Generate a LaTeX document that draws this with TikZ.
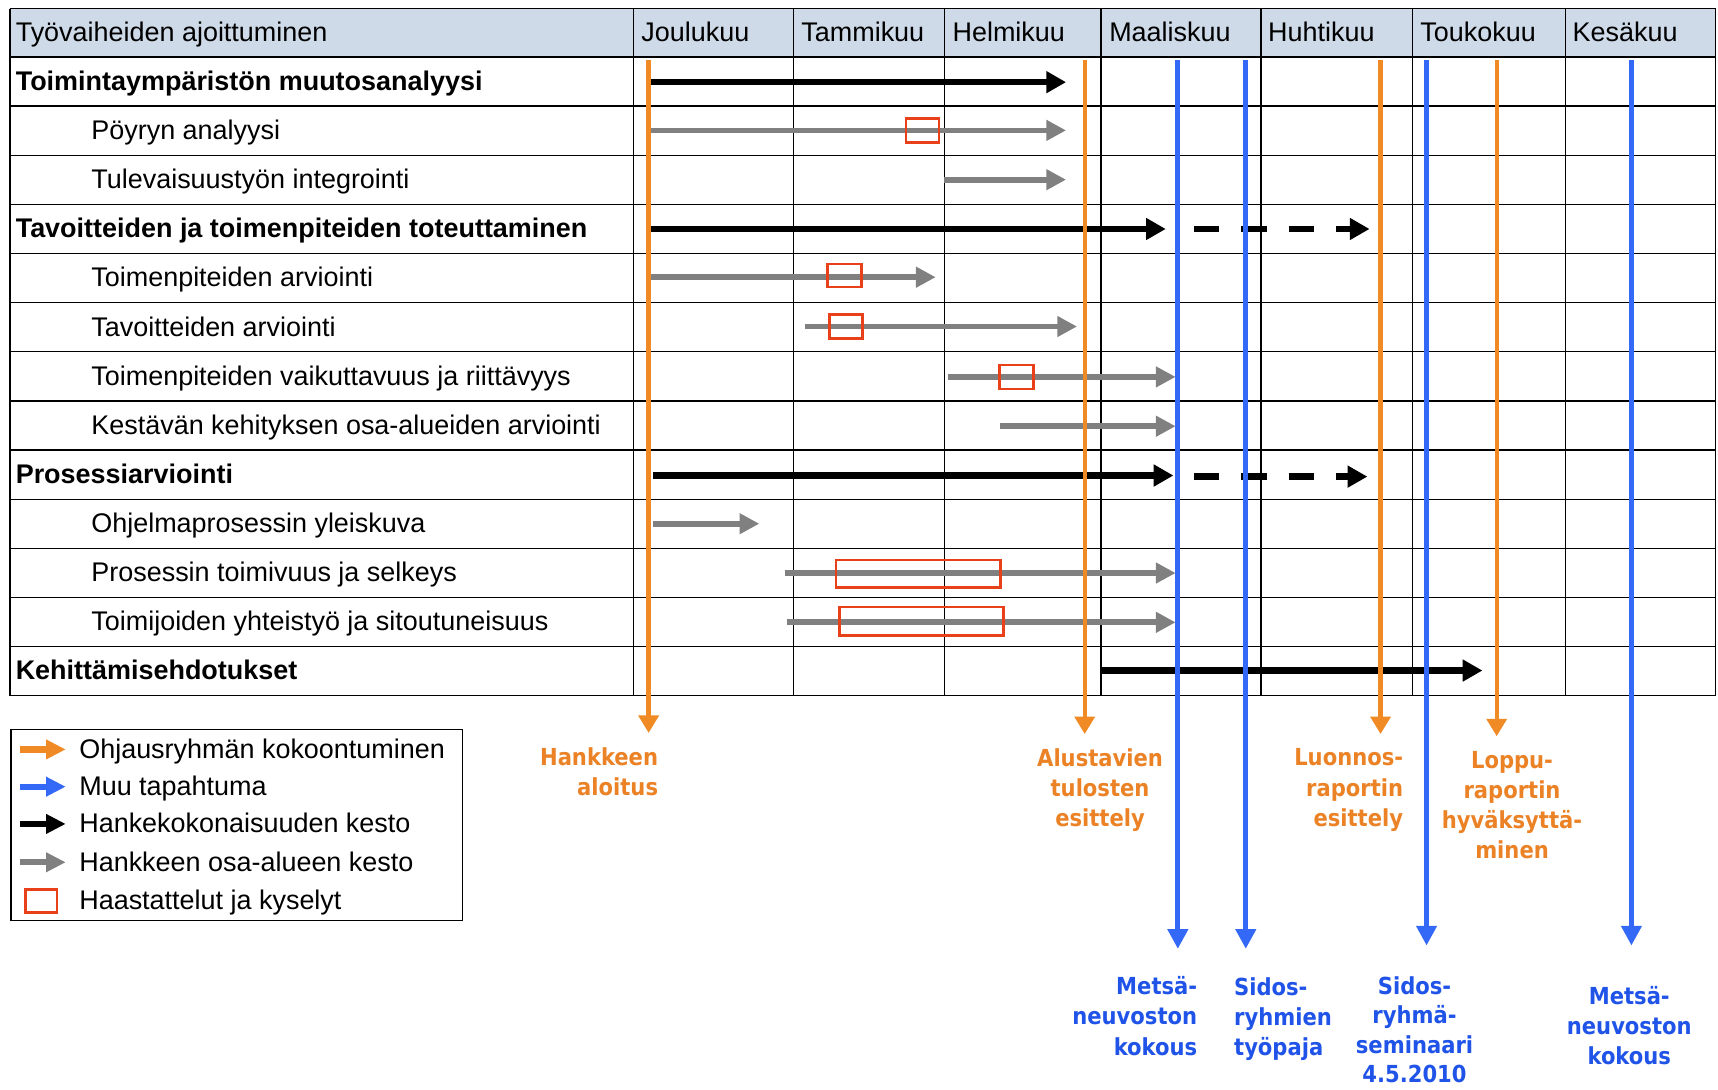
\documentclass[tikz,border=0pt]{standalone}
\usepackage{fontspec}
\setmainfont{Liberation Sans}
\newfontfamily\evfont{DejaVu Sans Condensed}
\usetikzlibrary{arrows.meta}
\definecolor{headfill}{RGB}{206,218,232}
\definecolor{evorange}{RGB}{240,138,36}
\definecolor{evblue}{RGB}{52,104,246}
\definecolor{txtorange}{RGB}{236,130,38}
\definecolor{txtblue}{RGB}{32,84,232}
\definecolor{redbox}{RGB}{232,64,24}
\definecolor{grayarr}{RGB}{128,128,128}
\tikzset{
  gridln/.style={line width=0.6pt, draw=black},
  mainarr/.style={line width=2.9pt, draw=black, -{Triangle[length=9pt,width=9.5pt]}},
  subarr/.style={line width=2.6pt, draw=grayarr, -{Triangle[length=9pt,width=9pt]}},
  dasharr/.style={mainarr, dash pattern=on 11.5pt off 10pt},
  ivbox/.style={draw=redbox, line width=1.2pt},
  orangeev/.style={line width=2pt, draw=evorange, -{Triangle[length=8pt,width=9pt]}},
  blueev/.style={line width=2.3pt, draw=evblue, -{Triangle[length=9pt,width=9pt]}},
  rowlbl/.style={anchor=base west, inner sep=0pt, font=\fontsize{12.3}{14}\selectfont},
  boldlbl/.style={rowlbl, font=\bfseries\fontsize{12.3}{14}\selectfont},
  evlbl/.style={inner sep=0pt, font=\evfont\bfseries\fontsize{10.7}{13.75}\selectfont},
  legarr/.style={line width=2.8pt, -{Triangle[length=9pt,width=8.5pt]}}
}
\begin{document}
\begin{tikzpicture}[x=0.5pt,y=-0.5pt]
\useasboundingbox (0,0) rectangle (1568,994);
\fill[white] (0,0) rectangle (1568,994);
% header
\fill[headfill] (9,8) rectangle (1566,52);
% grid
\foreach \yy in {8,52,96.85,141.7,186.55,231.4,276.25,321.1,365.95,410.8,455.65,500.5,545.35,590.2,635.05}
  \draw[gridln] (9,\yy) -- (1566,\yy);
\foreach \xx in {9,578,724,862,1005,1151,1289,1429,1566}
  \draw[gridln] (\xx,8) -- (\xx,635.05);
% header texts
\node[rowlbl] (head) at (14,38) {Työvaiheiden ajoittuminen};
\node[rowlbl] (mon1) at (585,38) {Joulukuu};
\node[rowlbl] (mon2) at (731,38) {Tammikuu};
\node[rowlbl] (mon3) at (869,38) {Helmikuu};
\node[rowlbl] (mon4) at (1012,38) {Maaliskuu};
\node[rowlbl] (mon5) at (1157,38) {Huhtikuu};
\node[rowlbl] (mon6) at (1296,38) {Toukokuu};
\node[rowlbl] (mon7) at (1435,38) {Kesäkuu};
% row texts
\node[boldlbl] (r1) at (14,82.5) {Toimintaympäristön muutosanalyysi};
\node[rowlbl] (r2) at (83,127.3) {Pöyryn analyysi};
\node[rowlbl] (r3) at (83,172.1) {Tulevaisuustyön integrointi};
\node[boldlbl] (r4) at (14,217) {Tavoitteiden ja toimenpiteiden toteuttaminen};
\node[rowlbl] (r5) at (83,261.8) {Toimenpiteiden arviointi};
\node[rowlbl] (r6) at (83,306.7) {Tavoitteiden arviointi};
\node[rowlbl] (r7) at (83,351.5) {Toimenpiteiden vaikuttavuus ja riittävyys};
\node[rowlbl] (r8) at (83,396.4) {Kestävän kehityksen osa-alueiden arviointi};
\node[boldlbl] (r9) at (14,441.2) {Prosessiarviointi};
\node[rowlbl] (r10) at (83,486.1) {Ohjelmaprosessin yleiskuva};
\node[rowlbl] (r11) at (83,530.9) {Prosessin toimivuus ja selkeys};
\node[rowlbl] (r12) at (83,575.8) {Toimijoiden yhteistyö ja sitoutuneisuus};
\node[boldlbl] (r13) at (14,620.6) {Kehittämisehdotukset};
% bar coordinates
\coordinate (a1s) at (593,75);   \coordinate (a1e) at (973,75);
\coordinate (a2s) at (593,119);  \coordinate (a2e) at (973,119);
\coordinate (a3s) at (862,164);  \coordinate (a3e) at (973,164);
\coordinate (a4s) at (593,209);  \coordinate (a4e) at (1064,209);
\coordinate (d4s) at (1090,209); \coordinate (d4e) at (1250,209);
\coordinate (a5s) at (593,253);  \coordinate (a5e) at (854,253);
\coordinate (a6s) at (735,298);  \coordinate (a6e) at (983,298);
\coordinate (a7s) at (865,344);  \coordinate (a7e) at (1073,344);
\coordinate (a8s) at (913,389);  \coordinate (a8e) at (1073,389);
\coordinate (a9s) at (596,434);  \coordinate (a9e) at (1071,434);
\coordinate (d9s) at (1090,435); \coordinate (d9e) at (1248,435);
\coordinate (a10s) at (596,478); \coordinate (a10e) at (693,478);
\coordinate (a11s) at (716,523); \coordinate (a11e) at (1073,523);
\coordinate (a12s) at (718,568); \coordinate (a12e) at (1073,568);
\coordinate (a13s) at (1004,612); \coordinate (a13e) at (1353,612);
% bars
\draw[mainarr] (a1s) -- (a1e);
\draw[subarr] (a2s) -- (a2e);
\draw[subarr] (a3s) -- (a3e);
\draw[mainarr] (a4s) -- (a4e);
\draw[dasharr] (d4s) -- (d4e);
\draw[subarr] (a5s) -- (a5e);
\draw[subarr] (a6s) -- (a6e);
\draw[subarr] (a7s) -- (a7e);
\draw[subarr] (a8s) -- (a8e);
\draw[mainarr] (a9s) -- (a9e);
\draw[dasharr] (d9s) -- (d9e);
\draw[subarr] (a10s) -- (a10e);
\draw[subarr] (a11s) -- (a11e);
\draw[subarr] (a12s) -- (a12e);
\draw[mainarr] (a13s) -- (a13e);
% interview boxes
\draw[ivbox] (827,108) rectangle (857,130);
\draw[ivbox] (755,241) rectangle (786,262);
\draw[ivbox] (757,287) rectangle (787,309);
\draw[ivbox] (912,333) rectangle (943,355);
\draw[ivbox] (763,511) rectangle (913,536);
\draw[ivbox] (766,554) rectangle (916,580);
% event labels
\node[evlbl, text=txtorange, anchor=north east, align=right] (e1) at (601,682) {Hankkeen\\aloitus};
\node[evlbl, text=txtorange, anchor=north, align=center] (e2) at (1004,683) {Alustavien\\tulosten\\esittely};
\node[evlbl, text=txtorange, anchor=north east, align=right] (e3) at (1281,683) {Luonnos-\\raportin\\esittely};
\node[evlbl, text=txtorange, anchor=north, align=center] (e4) at (1380,685) {Loppu-\\raportin\\hyväksyttä-\\minen};
\node[evlbl, text=txtblue, anchor=north east, align=right] (e5) at (1093,891) {Metsä-\\neuvoston\\kokous};
\node[evlbl, text=txtblue, anchor=north west, align=left] (e6) at (1126,892) {Sidos-\\ryhmien\\työpaja};
\node[evlbl, text=txtblue, anchor=north, align=center, font=\evfont\bfseries\fontsize{10.7}{13.4}\selectfont] (e7) at (1291,891) {Sidos-\\ryhmä-\\seminaari\\4.5.2010};
\node[evlbl, text=txtblue, anchor=north, align=center] (e8) at (1487,900) {Metsä-\\neuvoston\\kokous};
% event line coordinates
\coordinate (o1s) at (592,55);   \coordinate (o1e) at (592,669);
\coordinate (o2s) at (990,55);   \coordinate (o2e) at (990,670);
\coordinate (o3s) at (1260,55);  \coordinate (o3e) at (1260,670);
\coordinate (o4s) at (1366,55);  \coordinate (o4e) at (1366,672);
\coordinate (b1s) at (1075,55);  \coordinate (b1e) at (1075,866);
\coordinate (b2s) at (1137,55);  \coordinate (b2e) at (1137,866);
\coordinate (b3s) at (1302,55);  \coordinate (b3e) at (1302,863);
\coordinate (b4s) at (1489,55);  \coordinate (b4e) at (1489,863);
\draw[orangeev] (o1s) -- (o1e);
\draw[orangeev] (o2s) -- (o2e);
\draw[orangeev] (o3s) -- (o3e);
\draw[orangeev] (o4s) -- (o4e);
\draw[blueev] (b1s) -- (b1e);
\draw[blueev] (b2s) -- (b2e);
\draw[blueev] (b3s) -- (b3e);
\draw[blueev] (b4s) -- (b4e);
% legend
\node[draw=black, line width=0.6pt, minimum width=206pt, minimum height=87pt, inner sep=0pt] (legend) at (216,753) {};
\coordinate (l1s) at (18,684); \coordinate (l1e) at (60,684);
\coordinate (l2s) at (18,718); \coordinate (l2e) at (60,718);
\coordinate (l3s) at (18,752); \coordinate (l3e) at (60,752);
\coordinate (l4s) at (18,787); \coordinate (l4e) at (60,787);
\draw[legarr, draw=evorange] (l1s) -- (l1e);
\draw[legarr, draw=evblue] (l2s) -- (l2e);
\draw[legarr, draw=black] (l3s) -- (l3e);
\draw[legarr, draw=grayarr] (l4s) -- (l4e);
\draw[ivbox] (23,812) rectangle (52,833);
\node[rowlbl] (lt1) at (72,692) {Ohjausryhmän kokoontuminen};
\node[rowlbl] (lt2) at (72,726) {Muu tapahtuma};
\node[rowlbl] (lt3) at (72,760) {Hankekokonaisuuden kesto};
\node[rowlbl] (lt4) at (72,795) {Hankkeen osa-alueen kesto};
\node[rowlbl] (lt5) at (72,830) {Haastattelut ja kyselyt};
\end{tikzpicture}
\end{document}
